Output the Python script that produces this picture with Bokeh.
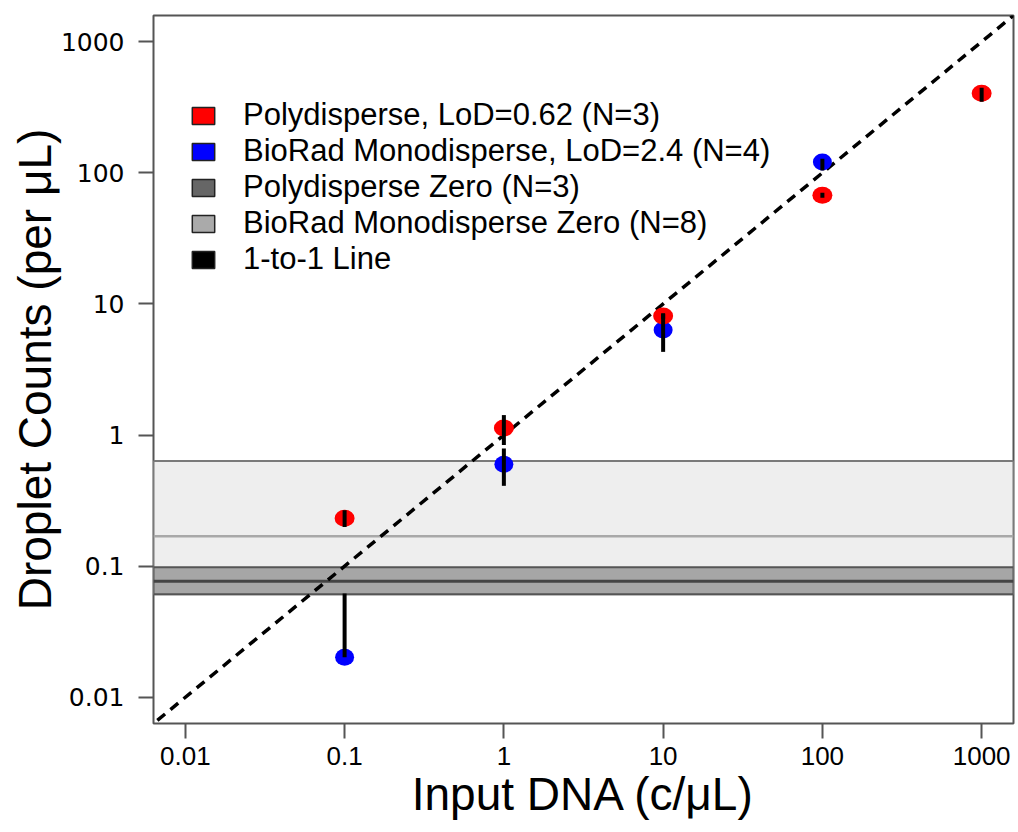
from bokeh.plotting import figure
from bokeh.models import (Range1d, FixedTicker, CustomJSTickFormatter, BoxAnnotation,
                          Span, Legend, LegendItem)
from bokeh.embed import file_html
from bokeh.resources import INLINE

# ---------------- data ----------------
input_dna = [0.1, 1, 10, 100, 1000]                 # c/uL
poly_counts = [0.232, 1.13, 8.1, 67.5, 405]          # Polydisperse mean
poly_low = [0.199, 0.84, 7.7, 64.5, 349]
poly_high = [0.267, 1.42, 8.5, 70.5, 446]

biorad_dna = [0.1, 1, 10, 100]
biorad_counts = [0.0202, 0.60, 6.34, 121]           # BioRad Monodisperse mean
biorad_low = [0.0202, 0.41, 4.31, 104]
biorad_high = [0.062, 0.79, 8.37, 128]

poly_zero = [0.061, 0.0767, 0.098]                  # low, mean, high
biorad_zero = [0.061, 0.169, 0.634]                 # low, mean, high

one_to_one = [0.001, 10000]
tick_values = [0.01, 0.1, 1, 10, 100, 1000]
axis_limits = [10 ** -2.2, 10 ** 3.2]

legend_labels = ["Polydisperse, LoD=0.62 (N=3)",
                 "BioRad Monodisperse, LoD=2.4 (N=4)",
                 "Polydisperse Zero (N=3)",
                 "BioRad Monodisperse Zero (N=8)",
                 "1-to-1 Line"]
legend_colors = ["#ff0000", "#0000ff", "#666666", "#aaaaaa", "#000000"]

# ---------------- figure ----------------
p = figure(width=1016, height=830, x_axis_type="log", y_axis_type="log",
           x_range=Range1d(*axis_limits), y_range=Range1d(*axis_limits),
           output_backend="svg", toolbar_location=None,
           min_border_left=153, min_border_right=3, min_border_top=15,
           min_border_bottom=107)
p.grid.visible = False
p.outline_line_color = "#555555"
p.outline_line_width = 2
p.background_fill_color = "white"
p.border_fill_color = "white"

for ax in (p.xaxis[0], p.yaxis[0]):
    ax.ticker = FixedTicker(ticks=tick_values, minor_ticks=[])
    ax.formatter = CustomJSTickFormatter(code="return tick.toString()")
    ax.axis_line_color = None
    ax.major_tick_line_color = "#555555"
    ax.major_tick_line_width = 2
    ax.major_tick_out = 15
    ax.major_tick_in = 0
    ax.minor_tick_line_color = None
    ax.axis_label_text_font_style = "normal"
    ax.axis_label_text_color = "black"
    ax.major_label_text_color = "black"
    ax.axis_label_text_font = "Liberation Sans"
    ax.axis_label_text_font_size = "46px"

p.xaxis.axis_label = "Input DNA (c/\u03bcL)"
p.yaxis.axis_label = "Droplet Counts (per \u03bcL)"
p.xaxis.major_label_text_font = "Liberation Sans"
p.xaxis.major_label_text_font_size = "26px"
p.xaxis.major_label_standoff = 8
p.xaxis.axis_label_standoff = 0
p.yaxis.major_label_text_font = "DejaVu Sans"
p.yaxis.major_label_text_font_size = "25px"
p.yaxis.major_label_standoff = 14
p.yaxis.axis_label_standoff = -3

# ---------------- zero bands ----------------
p.add_layout(BoxAnnotation(bottom=biorad_zero[0], top=biorad_zero[2],
                           fill_color="#eeeeee", fill_alpha=1,
                           line_color="#7a7a7a", line_alpha=1, line_width=2,
                           level="underlay"))
p.add_layout(Span(location=biorad_zero[1], dimension="width",
                  line_color="#a8a8a8", line_width=2.5, level="underlay"))
p.add_layout(BoxAnnotation(bottom=poly_zero[0], top=poly_zero[2],
                           fill_color="#a6a6a6", fill_alpha=1,
                           line_color="#555555", line_alpha=1, line_width=2,
                           level="underlay"))
p.add_layout(Span(location=poly_zero[1], dimension="width",
                  line_color="#444444", line_width=3, level="underlay"))

# ---------------- 1-to-1 line ----------------
p.line(one_to_one, one_to_one, line_color="black", line_width=3.5, line_dash="10 7")

# ---------------- points & error bars ----------------
p.ellipse(x=biorad_dna, y=biorad_counts, width=19, height=17,
          width_units="screen", height_units="screen",
          fill_color="#0000ff", line_color=None)
p.ellipse(x=input_dna, y=poly_counts, width=20, height=17,
          width_units="screen", height_units="screen",
          fill_color="#ff0000", line_color=None)
p.segment(x0=biorad_dna, y0=biorad_low, x1=biorad_dna, y1=biorad_high,
          line_color="black", line_width=4)
p.segment(x0=input_dna, y0=poly_low, x1=input_dna, y1=poly_high,
          line_color="black", line_width=4)

# ---------------- legend (swatch-only renderers, nothing drawn in plot) ----------------
nan = float("nan")
items = []
for lab, col in zip(legend_labels, legend_colors):
    r = p.quad(left=[nan], right=[nan], top=[nan], bottom=[nan], fill_color=col,
               line_color="#222222", line_width=1.5)
    items.append(LegendItem(label=lab, renderers=[r]))

legend = Legend(items=items, location=(36, 446), padding=0, margin=0, spacing=0,
                glyph_width=28, glyph_height=21, label_height=34, label_standoff=26,
                label_text_font="Liberation Sans", label_text_font_size="31px",
                label_text_color="black", border_line_color=None,
                background_fill_alpha=0)
p.add_layout(legend)

with open("out.html", "w") as f:
    f.write(file_html(p, INLINE))
